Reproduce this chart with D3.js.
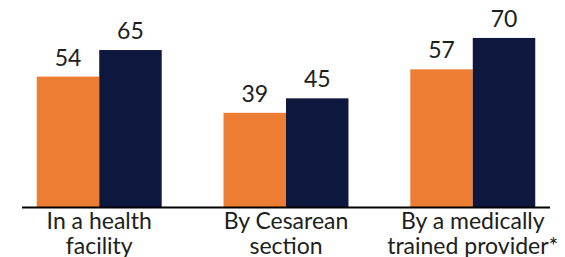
<!DOCTYPE html>
<html>
<head>
<meta charset="utf-8">
<script src="https://cdn.jsdelivr.net/npm/d3@7"></script>
<style>
  html, body { margin: 0; padding: 0; background: #fff; }
  svg { display: block; }
</style>
</head>
<body>
<div id="chart"></div>
<script>
// chart data
const categories = [["In a health", "facility"], ["By Cesarean", "section"], ["By a medically", "trained provider*"]];
const seriesNames = ["first", "second"];
const firstValues = [54, 39, 57];
const secondValues = [65, 45, 70];

const colors = ["#EC7D32", "#0E183E"];

const width = 565, height = 257;
const base = 207;

const svg = d3.select("#chart")
  .append("svg")
  .attr("width", width)
  .attr("height", height);

const keys = categories.map(c => c.join(" "));
const rows = keys.map((k, i) => ({ key: k, lines: categories[i], vals: [firstValues[i], secondValues[i]] }));

const x0 = d3.scaleBand()
  .domain(keys)
  .range([22, 550])
  .paddingInner(0.331)
  .paddingOuter(0.079);

const x1 = d3.scaleBand()
  .domain(seriesNames)
  .range([0, x0.bandwidth()]);

const y = d3.scaleLinear()
  .domain([0, 80])
  .range([base, base - 80 * 2.415]);

const groups = svg.selectAll("g.grp")
  .data(rows)
  .enter()
  .append("g")
  .attr("class", "grp")
  .attr("transform", d => `translate(${x0(d.key)},0)`);

groups.selectAll("rect")
  .data(d => d.vals.map((v, j) => ({ s: seriesNames[j], v: v, j: j })))
  .enter()
  .append("rect")
  .attr("x", d => x1(d.s))
  .attr("y", d => y(d.v))
  .attr("width", x1.bandwidth())
  .attr("height", d => base - y(d.v))
  .attr("fill", d => colors[d.j]);

groups.selectAll("text.val")
  .data(d => d.vals.map((v, j) => ({ s: seriesNames[j], v: v })))
  .enter()
  .append("text")
  .attr("class", "val")
  .attr("x", d => x1(d.s) + x1.bandwidth() / 2)
  .attr("y", d => y(d.v) - 11)
  .attr("text-anchor", "middle")
  .attr("font-family", "Lato, sans-serif")
  .attr("font-size", "23px")
  .attr("fill", "#1c211c")
  .text(d => d.v);

// baseline axis
svg.append("line")
  .attr("x1", 22)
  .attr("x2", 550)
  .attr("y1", base + 0.5)
  .attr("y2", base + 0.5)
  .attr("stroke", "#000")
  .attr("stroke-width", 2);

// category labels
const lab = svg.selectAll("text.cat")
  .data(rows)
  .enter()
  .append("text")
  .attr("class", "cat")
  .attr("text-anchor", "middle")
  .attr("font-family", "Lato, sans-serif")
  .attr("font-size", "23px")
  .attr("fill", "#1c211c");

lab.selectAll("tspan")
  .data(d => d.lines.map(l => ({ l: l, cx: x0(d.key) + x0.bandwidth() / 2 })))
  .enter()
  .append("tspan")
  .attr("x", d => d.cx)
  .attr("y", (d, i) => 229 + i * 25)
  .text(d => d.l);
</script>
</body>
</html>
